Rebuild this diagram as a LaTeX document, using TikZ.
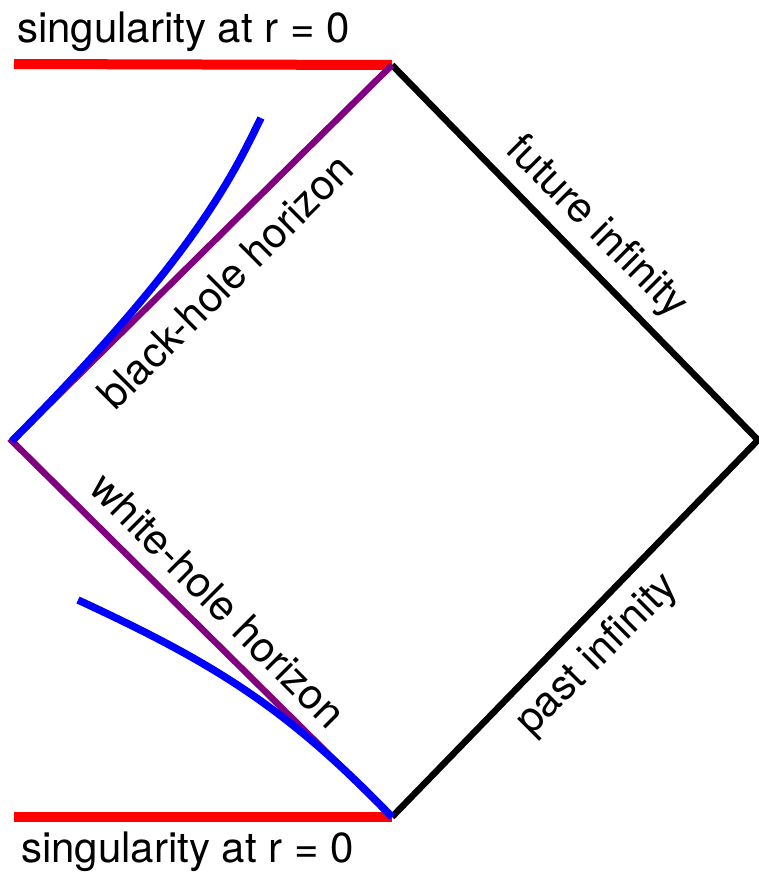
\documentclass[tikz,border=0pt]{standalone}
\usepackage{fontspec}
\setmainfont{TeX Gyre Heros}
\definecolor{hpurple}{RGB}{128,0,128}
\definecolor{hblue}{RGB}{0,0,255}
\definecolor{hred}{RGB}{255,0,0}
\begin{document}
\begin{tikzpicture}[x=1pt,y=1pt,
  lbl/.style={inner sep=0pt,font=\fontsize{42}{48}\selectfont},
  sing/.style={draw=hred,line width=10pt},
  edge/.style={draw=black,line width=6.5pt,line join=miter},
  horiz/.style={draw=hpurple,line width=6.5pt},
  world/.style={draw=hblue,line width=7.5pt}]
\useasboundingbox (0,0) rectangle (758,-873);
\coordinate (T) at (392,-65);
\coordinate (R) at (758,-440);
\coordinate (B) at (392,-817);
\coordinate (L) at (12,-441);
\coordinate (s1a) at (14,-64);
\coordinate (s2a) at (14,-817);
\coordinate (w1) at (261,-118);
\coordinate (w2) at (78,-600);
% singularities
\draw[sing] (s1a) -- (T);
\draw[sing] (s2a) -- (B);
% infinity edges
\draw[edge] (T) -- (R) -- (B);
% horizons
\draw[horiz] (T) -- (L) -- (B);
% blue curves
\draw[world] (L) .. controls (200,-252) and (235,-170) .. (w1);
\draw[world] (w2) .. controls (214,-663) and (286,-707) .. (B);
% labels
\node[lbl,anchor=base west] (st) at (17,-42) {singularity at r = 0};
\node[lbl,anchor=base west] (sb) at (21,-862) {singularity at r = 0};
\node[lbl,rotate=45] (bh) at (225,-281) {black-hole horizon};
\node[lbl,rotate=-45] (fi) at (596,-228) {future infinity};
\node[lbl,rotate=-45] (wh) at (218,-600) {white-hole horizon};
\node[lbl,rotate=45] (pi) at (598,-655) {past infinity};
\end{tikzpicture}
\end{document}
